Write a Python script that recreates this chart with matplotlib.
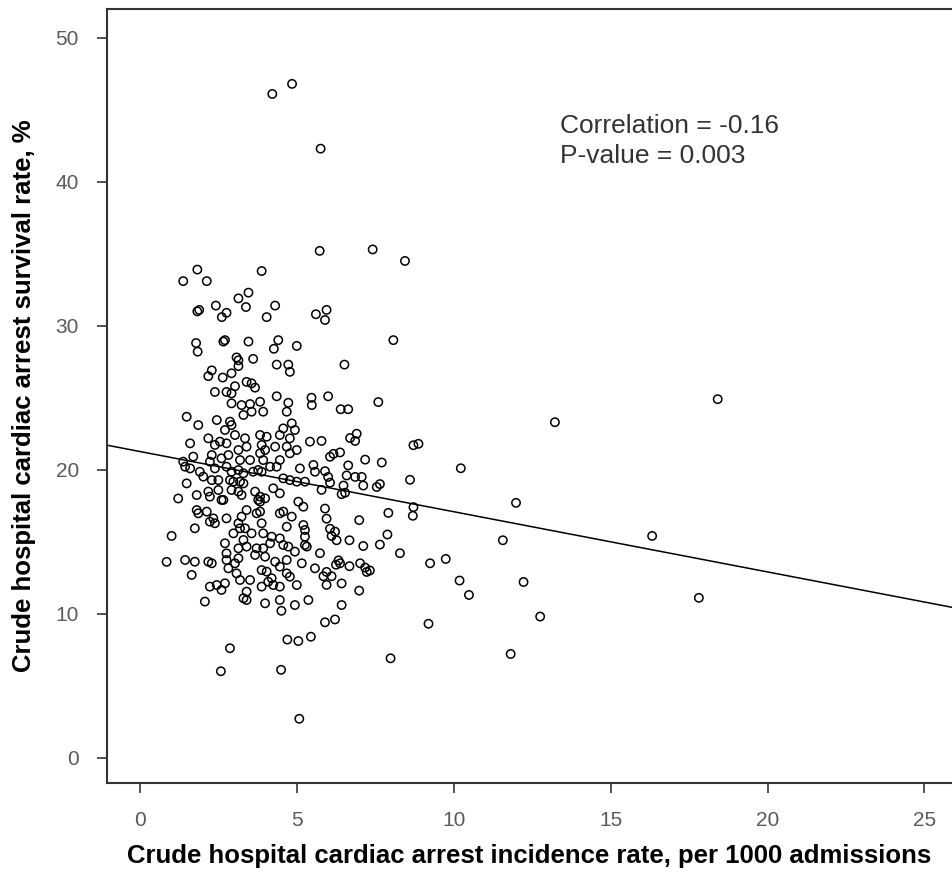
import numpy as np
import matplotlib
matplotlib.use('Agg')
import matplotlib.pyplot as plt

plt.rcParams['font.family'] = ['Liberation Sans', 'DejaVu Sans']

# Hospital values: incidence per 1000 admissions, survival %
# Sparse outer points
incidence_outer = [4.21, 4.84, 5.75, 5.72, 7.41, 8.44, 8.07, 13.22, 18.41, 10.22, 11.98, 11.56,
                   16.32, 9.74, 10.18, 10.48, 12.22, 17.81, 12.75, 11.81, 9.19, 7.98, 5.89, 6.21,
                   4.69, 5.04, 5.44, 4.49, 5.07, 2.86, 2.57, 4.50]
survival_outer = [46.1, 46.8, 42.3, 35.2, 35.3, 34.5, 29.0, 23.3, 24.9, 20.1, 17.7, 15.1,
                  15.4, 13.8, 12.3, 11.3, 12.2, 11.1, 9.8, 7.2, 9.3, 6.9, 9.4, 9.6,
                  8.2, 8.1, 8.4, 6.1, 2.7, 7.6, 6.0, 10.2]

# Upper part of the cluster (survival above ~25)
incidence_upper = [1.82, 1.37, 2.12, 3.87, 3.13, 3.45, 3.37, 4.30, 1.82, 1.88, 2.41, 2.75,
                   2.60, 4.03, 1.78, 1.83, 2.65, 2.70, 3.45, 4.40, 4.26, 4.99, 3.07, 3.13,
                   3.60, 4.35, 4.72, 4.77, 2.28, 2.17, 2.63, 2.91, 3.13, 3.39, 3.55, 3.66,
                   2.38, 2.75, 2.91, 3.02, 4.35, 5.60, 5.94, 5.89, 6.51, 5.46, 5.99, 6.39,
                   6.63, 7.59]
survival_upper = [33.9, 33.1, 33.1, 33.8, 31.9, 32.3, 31.3, 31.4, 31.0, 31.1, 31.4, 30.9,
                  30.6, 30.6, 28.8, 28.2, 28.9, 29.0, 28.9, 29.0, 28.4, 28.6, 27.8, 27.6,
                  27.7, 27.3, 27.3, 26.8, 26.9, 26.5, 26.4, 26.7, 27.2, 26.1, 26.0, 25.7,
                  25.4, 25.4, 25.3, 25.8, 25.1, 30.8, 31.1, 30.4, 27.3, 25.0, 25.1, 24.2,
                  24.2, 24.7]

# Dense core of the cluster (incidence ~1.3-5.7, survival ~10.5-24.8)
incidence_core = [2.91, 3.23, 3.50, 3.82, 4.72, 5.47,
                  1.48, 1.85, 2.44, 2.86, 2.91, 3.29, 3.55, 3.92, 4.67,
                  2.17, 2.70, 3.02, 3.34, 3.82, 4.03, 4.45, 4.56, 4.83, 4.93, 4.77,
                  1.59, 2.54, 2.38, 2.75, 3.13, 3.39, 3.87, 3.98, 4.30, 4.67, 4.99, 5.41,
                  1.69, 1.37, 1.43, 2.28, 2.22, 2.59, 2.81, 3.18, 3.50, 3.82, 3.92, 4.45, 4.77,
                  1.59, 1.90, 2.01, 2.38, 2.75, 2.91, 3.13, 3.29, 3.60, 3.76, 3.87, 4.14, 4.35,
                  5.09, 5.52, 5.57,
                  1.48, 2.28, 2.49, 2.86, 2.97, 3.18, 3.29, 4.56, 4.77, 4.99, 5.25,
                  1.80, 2.17, 2.22, 2.49, 2.91, 3.13, 3.23, 3.66, 3.82, 3.98, 4.24, 4.45,
                  2.65, 2.59, 3.76, 3.82,
                  1.80, 1.85, 2.12, 2.33, 2.38, 2.75, 3.23, 3.39, 3.71, 3.82, 4.45, 4.56, 4.83,
                  5.04, 5.20,
                  1.74, 2.22, 3.13, 3.18, 3.34, 3.87, 4.67, 5.20, 5.25,
                  2.97, 3.55, 3.29, 3.92, 4.19, 5.25, 5.31,
                  2.70, 2.75, 3.13, 3.39, 3.71, 3.92, 4.14, 4.45, 4.56, 4.72, 4.93, 5.25,
                  1.43, 1.74, 2.17, 2.28, 2.75, 3.02, 3.13, 3.66, 3.98, 4.30, 4.45, 4.67, 5.15,
                  1.64, 2.81, 3.07, 3.18, 3.50, 3.87, 4.03, 4.19, 4.67, 4.77, 5.57,
                  2.22, 2.44, 2.59, 2.70, 3.39, 3.87, 4.08, 4.24, 4.45, 4.99,
                  2.06, 3.29, 3.39, 3.98, 4.45, 5.36, 4.93]
survival_core = [24.61, 24.49, 24.56, 24.72, 24.65, 24.49,
                 23.68, 23.10, 23.45, 23.34, 23.10, 23.80, 24.03, 24.03, 24.03,
                 22.18, 22.76, 22.41, 22.18, 22.41, 22.29, 22.41, 22.87, 23.22, 22.76, 22.18,
                 21.83, 21.95, 21.72, 21.83, 21.37, 21.60, 21.72, 21.37, 21.60, 21.60, 21.37, 21.95,
                 20.91, 20.56, 20.21, 21.02, 20.56, 20.79, 21.02, 20.67, 20.67, 21.14, 20.67, 20.67, 21.14,
                 20.09, 19.86, 19.52, 20.09, 20.21, 19.86, 19.98, 19.75, 19.86, 19.98, 19.86, 20.21, 20.21,
                 20.09, 20.33, 19.86,
                 19.05, 19.28, 19.28, 19.28, 19.17, 19.17, 19.05, 19.40, 19.28, 19.17, 19.17,
                 18.24, 18.48, 18.13, 18.59, 18.59, 18.48, 18.24, 18.48, 18.13, 18.01, 18.71, 18.36,
                 17.90, 17.90, 17.90, 17.78,
                 17.20, 16.97, 17.09, 16.62, 16.28, 16.62, 16.74, 17.20, 16.97, 17.09, 16.97, 17.09, 16.74,
                 17.78, 17.43,
                 15.93, 16.39, 16.28, 15.93, 15.93, 16.28, 16.04, 16.16, 15.81,
                 15.58, 15.58, 15.12, 15.58, 15.35, 15.35, 14.66,
                 14.89, 14.19, 14.54, 14.66, 14.54, 14.54, 14.89, 15.23, 14.77, 14.66, 14.31, 14.77,
                 13.73, 13.61, 13.61, 13.50, 13.73, 13.50, 13.85, 14.08, 13.96, 13.61, 13.27, 13.73, 13.50,
                 12.69, 13.15, 12.80, 12.34, 12.34, 13.03, 12.92, 12.46, 12.80, 12.57, 13.15,
                 11.88, 11.99, 11.65, 12.11, 11.53, 11.88, 12.22, 11.99, 11.88, 11.99,
                 10.84, 11.07, 10.95, 10.72, 10.95, 10.95, 10.60]

# Far left edge of the cluster
incidence_left = [1.21, 1.00, 0.84]
survival_left = [18.0, 15.4, 13.6]

# Right side of the cluster (incidence above ~5.7)
incidence_right = [5.78, 6.69, 6.90, 6.85, 8.71, 8.87, 5.89, 6.05, 6.16, 6.37, 6.63, 7.17,
                   7.70, 5.99, 6.05, 5.78, 6.58, 6.85, 7.06, 6.48, 6.42, 6.53, 7.11, 7.54,
                   7.64, 8.60, 8.71, 8.69, 5.89, 5.94, 6.05, 6.21, 6.26, 6.10, 6.98, 7.91,
                   7.88, 6.67, 7.11, 7.64, 8.28, 5.73, 5.94, 5.84, 6.10, 6.32, 6.37, 6.24,
                   6.67, 7.01, 7.17, 7.22, 7.32, 6.42, 5.94, 6.98, 6.42, 9.24]
survival_right = [22.0, 22.2, 22.5, 22.0, 21.7, 21.8, 19.9, 20.9, 21.1, 21.2, 20.3, 20.7,
                  20.5, 19.5, 19.1, 18.6, 19.6, 19.5, 19.5, 18.9, 18.3, 18.4, 18.9, 18.8,
                  19.0, 19.3, 17.4, 16.8, 17.3, 16.6, 15.9, 15.7, 15.1, 15.4, 16.5, 17.0,
                  15.5, 15.1, 14.7, 14.8, 14.2, 14.2, 12.9, 12.6, 12.6, 13.7, 13.5, 13.4,
                  13.3, 13.5, 13.2, 12.9, 13.0, 12.1, 12.0, 11.6, 10.6, 13.5]

# Fitted regression line as drawn in the figure
fit_intercept = 21.26
fit_slope = -0.418

correlation_text = 'Correlation = -0.16'
pvalue_text = 'P-value = 0.003'

incidence = np.array(incidence_outer + incidence_upper + incidence_core
                     + incidence_left + incidence_right)
survival = np.array(survival_outer + survival_upper + survival_core
                    + survival_left + survival_right)

fig = plt.figure(figsize=(9.52, 8.84), dpi=100)
ax = fig.add_axes([0.1124, 0.1146, 0.8876, 0.8752])

ax.scatter(incidence, survival, s=36, facecolors='none', edgecolors='black',
           linewidths=1.1, zorder=3)

# Regression line across the whole panel
x_min, x_max = -1.06, 25.88
line_x = np.array([x_min, x_max])
ax.plot(line_x, fit_intercept + fit_slope * line_x, color='black', linewidth=1.1, zorder=2)

ax.set_xlim(x_min, x_max)
ax.set_ylim(-1.74, 52.0)
ax.set_xticks([0, 5, 10, 15, 20, 25])
ax.set_yticks([0, 10, 20, 30, 40, 50])

# R-like look: dark frame, outward ticks, gray tick labels
for side in ['left', 'bottom', 'top']:
    ax.spines[side].set_color('#333333')
    ax.spines[side].set_linewidth(1.5)
ax.spines['right'].set_visible(False)
ax.tick_params(axis='both', direction='out', length=7.2, width=1.2, color='#333333',
               labelsize=15, labelcolor='#5a5a5a', pad=13)

ax.set_xlabel('Crude hospital cardiac arrest incidence rate, per 1000 admissions',
              fontsize=18.5, fontweight='bold', labelpad=10)
ax.set_ylabel('Crude hospital cardiac arrest survival rate, %',
              fontsize=18.5, fontweight='bold', labelpad=14)

ax.text(13.38, 43.37, correlation_text, fontsize=19, color='#333333', va='baseline')
ax.text(13.38, 41.29, pvalue_text, fontsize=19, color='#333333', va='baseline')

plt.savefig('out.png', dpi=100)
